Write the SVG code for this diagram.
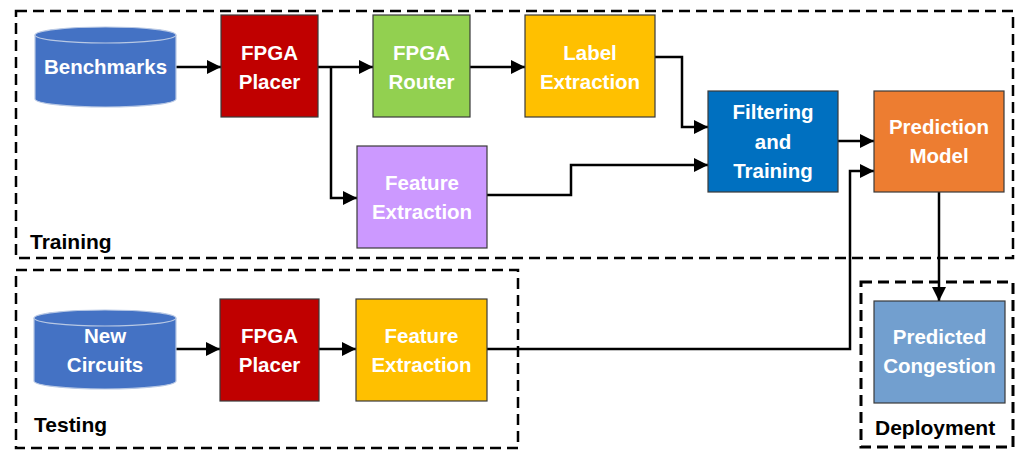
<svg xmlns="http://www.w3.org/2000/svg" width="1016" height="450" viewBox="0 0 1016 450">
<defs>
<marker id="arr" markerWidth="14" markerHeight="14" refX="14" refY="7" orient="auto" markerUnits="userSpaceOnUse">
<path d="M0,0 L14,7 L0,14 Z" fill="#000"/>
</marker>
<style>
.frame{fill:none;stroke:#000;stroke-width:2.5;stroke-dasharray:11,6}
.box{stroke:#3a3a3a;stroke-width:1.2}
.cyl{fill:#4472C4;stroke:#b8c8e4;stroke-width:1.2}
.t{font-family:"Liberation Sans",Arial,sans-serif;font-weight:bold;font-size:20.5px;fill:#fff;text-anchor:middle}
.lbl{font-family:"Liberation Sans",Arial,sans-serif;font-weight:bold;font-size:21px;fill:#000}
.c{fill:none;stroke:#000;stroke-width:2.5;marker-end:url(#arr)}
</style>
</defs>
<rect fill="#fff" width="1016" height="450"/>
<g id="frames">
<rect class="frame" x="16" y="11" width="997" height="247"/>
<rect class="frame" x="16" y="270" width="502" height="178"/>
<rect class="frame" x="861" y="282" width="152" height="165" style="stroke-width:3"/>
<text class="lbl" x="30" y="249">Training</text>
<text class="lbl" x="34" y="432">Testing</text>
<text class="lbl" x="875" y="435">Deployment</text>
</g>
<g id="connectors">
<path class="c" d="M176,67 L221,67"/>
<path class="c" d="M318,67 L373,67"/>
<path class="c" d="M331,67 L331,198 L357,198"/>
<path class="c" d="M470,67 L525,67"/>
<path class="c" d="M655,57 L682,57 L682,127 L708,127"/>
<path class="c" d="M487,195 L571,195 L571,165 L708,165"/>
<path class="c" d="M838,141 L874,141"/>
<path class="c" d="M487,349 L850,349 L850,171 L874,171"/>
<path class="c" d="M939,192 L939,301"/>
<path class="c" d="M176,349 L220,349"/>
<path class="c" d="M319,349 L356,349"/>
</g>
<g id="benchmarks">
<path class="cyl" d="M35,35 L35,99 A70.5,8 0 0 0 176,99 L176,35"/>
<ellipse class="cyl" cx="105.5" cy="35" rx="70.5" ry="8"/>
<text class="t" x="105.5" y="74">Benchmarks</text>
</g>
<g id="placer1">
<rect class="box" x="221" y="15" width="97" height="102" fill="#C00000"/>
<text class="t" x="269.5" y="60">FPGA</text>
<text class="t" x="269.5" y="89">Placer</text>
</g>
<g id="router">
<rect class="box" x="373" y="15" width="97" height="102" fill="#92D050"/>
<text class="t" x="421.5" y="60">FPGA</text>
<text class="t" x="421.5" y="89">Router</text>
</g>
<g id="label-extraction">
<rect class="box" x="525" y="15" width="130" height="102" fill="#FFC000"/>
<text class="t" x="590" y="60">Label</text>
<text class="t" x="590" y="89">Extraction</text>
</g>
<g id="feature-extraction1">
<rect class="box" x="357" y="146" width="130" height="102" fill="#CC99FF"/>
<text class="t" x="422" y="190">Feature</text>
<text class="t" x="422" y="219">Extraction</text>
</g>
<g id="filtering">
<rect class="box" x="708" y="91" width="130" height="101" fill="#0070C0"/>
<text class="t" x="773" y="119">Filtering</text>
<text class="t" x="773" y="149">and</text>
<text class="t" x="773" y="178">Training</text>
</g>
<g id="prediction-model">
<rect class="box" x="874" y="91" width="130" height="101" fill="#ED7D31"/>
<text class="t" x="939" y="134">Prediction</text>
<text class="t" x="939" y="163">Model</text>
</g>
<g id="new-circuits">
<path class="cyl" d="M34,318 L34,381 A71,8 0 0 0 176,381 L176,318"/>
<ellipse class="cyl" cx="105" cy="318" rx="71" ry="8"/>
<text class="t" x="105" y="343">New</text>
<text class="t" x="105" y="372">Circuits</text>
</g>
<g id="placer2">
<rect class="box" x="220" y="299" width="99" height="102" fill="#C00000"/>
<text class="t" x="269.5" y="343">FPGA</text>
<text class="t" x="269.5" y="372">Placer</text>
</g>
<g id="feature-extraction2">
<rect class="box" x="356" y="299" width="131" height="102" fill="#FFC000"/>
<text class="t" x="421.5" y="343">Feature</text>
<text class="t" x="421.5" y="372">Extraction</text>
</g>
<g id="predicted-congestion">
<rect class="box" x="874" y="301" width="131" height="102" fill="#729FCF"/>
<text class="t" x="939.5" y="344">Predicted</text>
<text class="t" x="939.5" y="373">Congestion</text>
</g>
</svg>
